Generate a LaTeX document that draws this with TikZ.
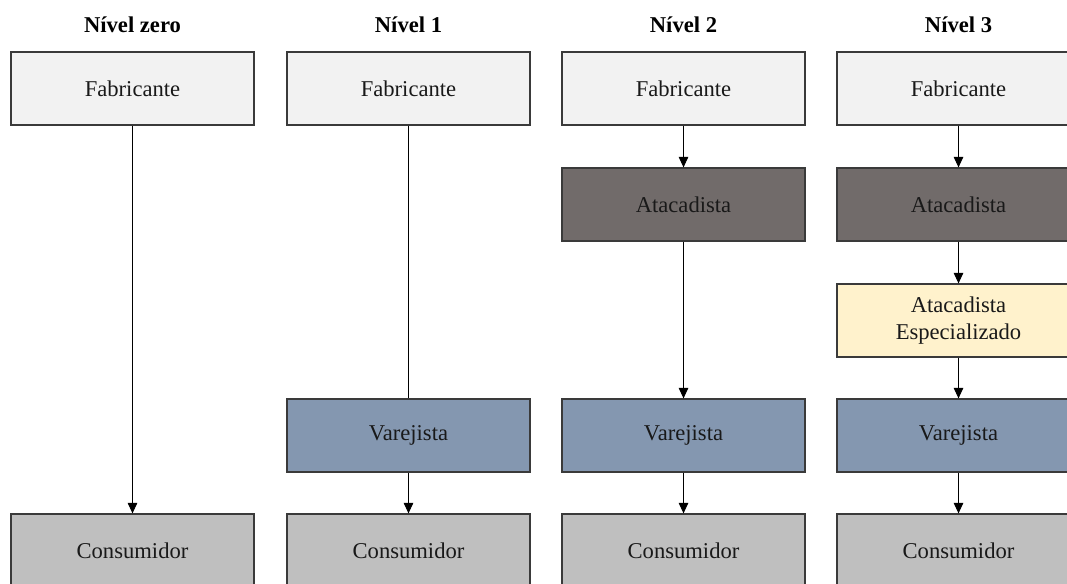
\documentclass[tikz,border=0pt]{standalone}
\usepackage{fontspec}
\setmainfont{Liberation Serif}
\usetikzlibrary{arrows.meta}
\definecolor{cFab}{HTML}{F2F2F2}
\definecolor{cAta}{HTML}{716B6A}
\definecolor{cEsp}{HTML}{FFF2CC}
\definecolor{cVar}{HTML}{8497B0}
\definecolor{cCon}{HTML}{BFBFBF}
\definecolor{cEdge}{HTML}{3A3A3A}
\begin{document}
\begin{tikzpicture}[x=1pt,y=-1pt,
  stage/.style={draw=cEdge, line width=1.2pt, minimum width=243pt, minimum height=73pt,
    inner sep=0pt, align=center, font=\fontsize{22.6}{26.5}\selectfont, text=black!90},
  fab/.style={stage, fill=cFab},
  ata/.style={stage, fill=cAta},
  esp/.style={stage, fill=cEsp},
  var/.style={stage, fill=cVar},
  con/.style={stage, fill=cCon},
  title/.style={font=\fontsize{22.6}{26}\selectfont\bfseries, anchor=base},
  flow/.style={draw=black, line width=1pt, -{Triangle[width=9.5pt,length=10.5pt]}}]
\useasboundingbox (0,0) rectangle (1067,583);
\clip (0,0) rectangle (1067,583);

% column titles
\node[title] (t0) at (132.5,32.5) {Nível zero};
\node[title] (t1) at (408.5,32.5) {Nível 1};
\node[title] (t2) at (683.5,32.5) {Nível 2};
\node[title] (t3) at (958.5,32.5) {Nível 3};

% Nível zero
\node[fab] (f0) at (132.5,88.5) {Fabricante};
\node[con] (c0) at (132.5,550.5) {Consumidor};

% Nível 1
\node[fab] (f1) at (408.5,88.5) {Fabricante};
\node[var] (v1) at (408.5,435.5) {Varejista};
\node[con] (c1) at (408.5,550.5) {Consumidor};

% Nível 2
\node[fab] (f2) at (683.5,88.5) {Fabricante};
\node[ata] (a2) at (683.5,204.5) {Atacadista};
\node[var] (v2) at (683.5,435.5) {Varejista};
\node[con] (c2) at (683.5,550.5) {Consumidor};

% Nível 3
\node[fab] (f3) at (958.5,88.5) {Fabricante};
\node[ata] (a3) at (958.5,204.5) {Atacadista};
\node[esp] (e3) at (958.5,320.5) {Atacadista\\Especializado};
\node[var] (v3) at (958.5,435.5) {Varejista};
\node[con] (c3) at (958.5,550.5) {Consumidor};

% flows
\draw[flow] (f0) -- (c0);
\draw[draw=black, line width=1pt] (f1) -- (v1);
\draw[flow] (v1) -- (c1);
\draw[flow] (f2) -- (a2);
\draw[flow] (a2) -- (v2);
\draw[flow] (v2) -- (c2);
\draw[flow] (f3) -- (a3);
\draw[flow] (a3) -- (e3);
\draw[flow] (e3) -- (v3);
\draw[flow] (v3) -- (c3);
\end{tikzpicture}
\end{document}
